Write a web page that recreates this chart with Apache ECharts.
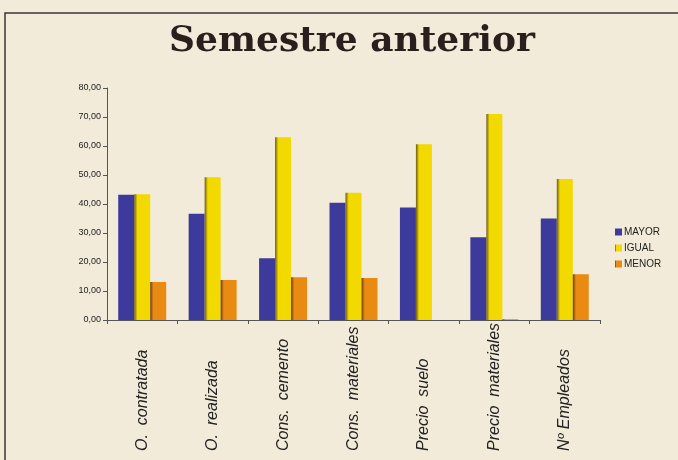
<!DOCTYPE html>
<html>
<head>
<meta charset="utf-8">
<script src="https://cdn.jsdelivr.net/npm/echarts@6/dist/echarts.min.js"></script>
<style>
  html, body { margin: 0; padding: 0; background: #f3ebda; }
  #chart { width: 678px; height: 460px; }
</style>
</head>
<body>
<div id="chart"></div>
<script>
var categories = ['O.  contratada', 'O.  realizada', 'Cons.  cemento', 'Cons.  materiales',
                  'Precio  suelo', 'Precio  materiales', 'Nº Empleados'];
var mayor = [43.2, 36.6, 21.3, 40.4, 38.8, 28.5, 35.0];
var igual = [43.4, 49.2, 63.0, 43.9, 60.6, 71.0, 48.6];
var menor = [13.1, 13.8, 14.7, 14.5, 0, 0.3, 15.8];
var yTicks = { min: 0, max: 80, interval: 10 };

var chart = echarts.init(document.getElementById('chart'));

function shade(dark, light) {
    return new echarts.graphic.LinearGradient(0, 0, 1, 0, [
        { offset: 0, color: dark },
        { offset: 0.2, color: light },
        { offset: 1, color: light }
    ]);
}

var option = {
    backgroundColor: '#f3ebda',
    title: {
        text: 'Semestre anterior',
        left: 164,
        top: 19,
        textStyle: {
            fontFamily: 'DejaVu Serif',
            fontWeight: 'bold',
            fontSize: 36,
            color: '#2a1f1c'
        }
    },
    graphic: [{
        type: 'rect',
        shape: { x: 5, y: 13, width: 700, height: 460 },
        style: { fill: null, stroke: '#3a3634', lineWidth: 1.5 },
        silent: true
    }],
    legend: {
        orient: 'vertical',
        left: 610,
        top: 222,
        itemWidth: 7,
        itemHeight: 7,
        itemGap: 6,
        icon: 'rect',
        textStyle: { fontFamily: 'Liberation Sans', fontSize: 10, color: '#222', padding: [0, 0, 0, -3] },
        data: ['MAYOR', 'IGUAL', 'MENOR']
    },
    grid: { left: 107, right: 78, top: 88, bottom: 140 },
    xAxis: {
        type: 'category',
        data: categories,
        axisLine: { lineStyle: { color: '#555', width: 1 } },
        axisTick: { show: true, length: 4, lineStyle: { color: '#555' } },
        axisLabel: {
            rotate: 90,
            align: 'left',
            margin: 131,
            fontFamily: 'Liberation Sans',
            fontStyle: 'italic',
            fontSize: 16,
            color: '#222'
        }
    },
    yAxis: {
        type: 'value',
        min: yTicks.min,
        max: yTicks.max,
        interval: yTicks.interval,
        splitLine: { show: false },
        axisLine: { show: true, lineStyle: { color: '#555', width: 1 } },
        axisTick: { show: true, length: 4, lineStyle: { color: '#555' } },
        axisLabel: {
            fontFamily: 'Liberation Sans',
            fontSize: 9,
            color: '#222',
            margin: 6,
            formatter: function (v) { return v.toFixed(2).replace('.', ','); }
        }
    },
    series: [{
        name: 'MAYOR',
        type: 'bar',
        data: mayor,
        barWidth: 16,
        barGap: '0%',
        itemStyle: { color: '#3c3b9c' }
    }, {
        name: 'IGUAL',
        type: 'bar',
        data: igual,
        barWidth: 16,
        itemStyle: { color: shade('#6b5a10', '#f2d900') }
    }, {
        name: 'MENOR',
        type: 'bar',
        data: menor,
        barWidth: 16,
        itemStyle: { color: shade('#6e3a10', '#e98a12') }
    }]
};

chart.setOption(option);
</script>
</body>
</html>
